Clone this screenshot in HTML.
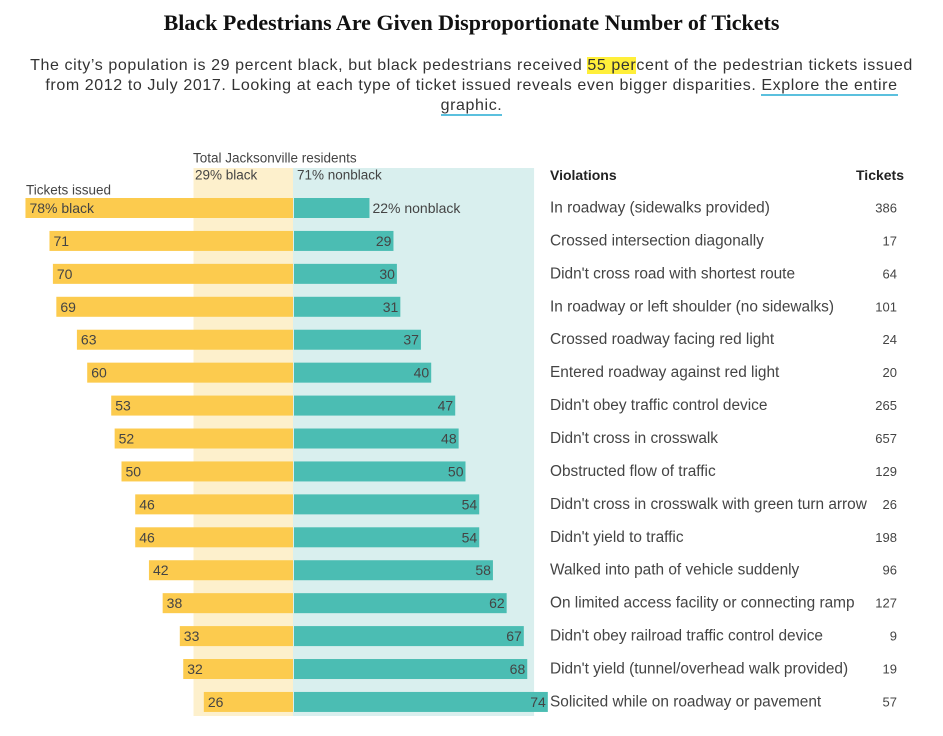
<!DOCTYPE html>
<html><head><meta charset="utf-8"><style>
body{margin:0;width:943px;height:736px;background:#fff;font-family:"Liberation Sans",sans-serif;color:#333;position:relative;overflow:hidden}
h1{position:absolute;left:0;width:943px;top:10px;margin:0;text-align:center;font-family:"Liberation Serif",serif;font-size:22px;font-weight:bold;color:#111}
.sub{position:absolute;left:10px;width:923px;top:56px;text-align:center;font-size:16px;letter-spacing:0.6px;line-height:20px;color:#333}
.hl{background:#ffef3a}
.lnk{border-bottom:2px solid #5bc0de}
svg text{font-family:"Liberation Sans",sans-serif}
</style></head><body>
<h1>Black Pedestrians Are Given Disproportionate Number of Tickets</h1>
<div class="sub">The city’s population is 29 percent black, but black pedestrians received <span class="hl">55 per</span>cent of the pedestrian tickets issued<br>from 2012 to July 2017. Looking at each type of ticket issued reveals even bigger disparities. <span class="lnk">Explore the entire</span><br><span class="lnk">graphic.</span></div>
<svg id="c" width="943" height="736" style="position:absolute;left:0;top:0"></svg>
<script>
const violations=["In roadway (sidewalks provided)","Crossed intersection diagonally","Didn't cross road with shortest route","In roadway or left shoulder (no sidewalks)","Crossed roadway facing red light","Entered roadway against red light","Didn't obey traffic control device","Didn't cross in crosswalk","Obstructed flow of traffic","Didn't cross in crosswalk with green turn arrow","Didn't yield to traffic","Walked into path of vehicle suddenly","On limited access facility or connecting ramp","Didn't obey railroad traffic control device","Didn't yield (tunnel/overhead walk provided)","Solicited while on roadway or pavement"];
const blackPct=[78,71,70,69,63,60,53,52,50,46,46,42,38,33,32,26];
const nonblackPct=[22,29,30,31,37,40,47,48,50,54,54,58,62,67,68,74];
const tickets=[386,17,64,101,24,20,265,657,129,26,198,96,127,9,19,57];
const popBlack=29, popNonblack=71;
const svg=document.getElementById('c');const NS='http://www.w3.org/2000/svg';
const cx=293,k=3.43,y0=208,dy=32.93,bh=20;
const xs=v=>v*k;const yr=i=>y0+i*dy;
function mk(t,a,p){const e=document.createElementNS(NS,t);for(const q in a)e.setAttribute(q,a[q]);(p||svg).appendChild(e);return e;}
function tx(x,y,s,o){const e=mk('text',Object.assign({x:x,y:y,'font-size':14,fill:'#444','dominant-baseline':'central'},o||{}));e.textContent=s;return e;}
let e=mk('rect',{x:cx-xs(popBlack),y:168,width:xs(popBlack),height:548,fill:'#fdf0cc'});


e=mk('rect',{x:cx,y:168,width:xs(popNonblack)*0.99,height:548,fill:'#d9efee'});


tx(193,158,'Total Jacksonville residents',{'font-size':13.5});
tx(195,175,popBlack+'% black',{'font-size':13.5});
tx(297,175,popNonblack+'% nonblack',{'font-size':13.5});
tx(26,190,'Tickets issued',{'font-size':13.5});
e=tx(550,175,'Violations',{'font-weight':'bold','font-size':14,fill:'#222'});


e=tx(904,175,'Tickets',{'font-weight':'bold','font-size':14,fill:'#222','text-anchor':'end'});


violations.forEach((v,i)=>{
 const y=yr(i);
 const b=mk('rect',{x:cx-xs(blackPct[i]),y:y-bh/2,width:xs(blackPct[i]),height:bh,fill:'#fccb4e'});
 
 
 const n=mk('rect',{x:cx+1,y:y-bh/2,width:xs(nonblackPct[i]),height:bh,fill:'#4bbdb3'});
 
 
 tx(cx-xs(blackPct[i])+4,y,i==0?blackPct[i]+'% black':String(blackPct[i]));
 if(i==0)tx(cx+xs(nonblackPct[i])+4,y,nonblackPct[i]+'% nonblack');
 else tx(cx+xs(nonblackPct[i])-1,y,String(nonblackPct[i]),{'text-anchor':'end'});
 const l=tx(550,y,v,{'font-size':15.4});
 
 
 const t=tx(897,y,String(tickets[i]),{'text-anchor':'end','font-size':13});
 
 
});
</script>
</body></html>
